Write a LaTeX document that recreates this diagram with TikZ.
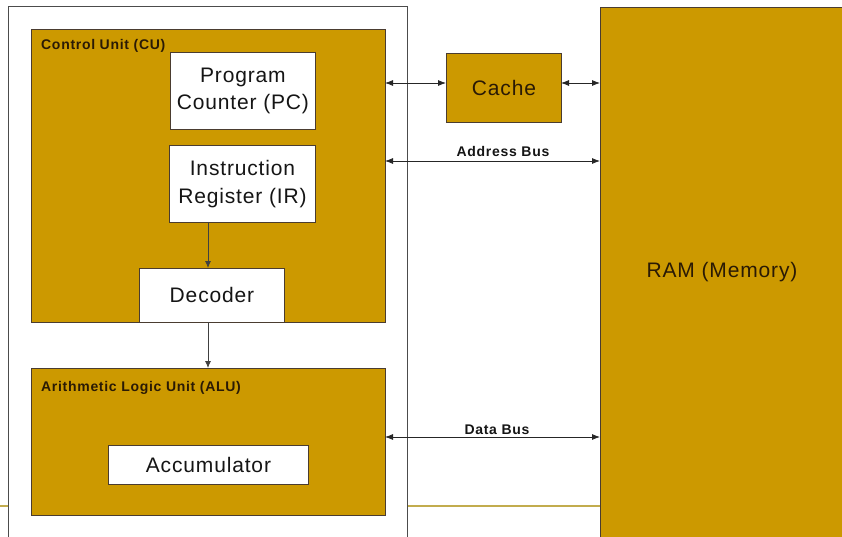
\documentclass[tikz,border=0pt]{standalone}
\usepackage{fontspec}
\setmainfont{Liberation Sans}
\usetikzlibrary{arrows.meta,calc}
\definecolor{gold}{HTML}{CC9900}
\definecolor{edge}{HTML}{4A3C30}
\definecolor{deco}{HTML}{C2AC4E}
\definecolor{ink}{HTML}{151515}
\definecolor{brownink}{HTML}{2A1A05}
\newcommand{\bigtext}{\fontsize{21}{27.5}\selectfont\addfontfeature{LetterSpace=4}}
\newcommand{\smalltext}{\bfseries\fontsize{14}{16}\selectfont\addfontfeature{LetterSpace=5}}
\tikzset{
  goldbox/.style={draw=edge, line width=0.9pt, fill=gold, anchor=north west, inner sep=0pt},
  whitebox/.style={draw=edge, line width=0.9pt, fill=white, anchor=north west, inner sep=0pt,
    font=\bigtext, text=ink, align=center},
  bigtextnode/.style={font=\bigtext, text=brownink},
  unitlabel/.style={font=\smalltext, text=brownink, anchor=base west, inner sep=0pt},
  buslabel/.style={font=\smalltext, text=ink, anchor=base, inner sep=0pt},
  bus/.style={draw=black!85, line width=0.8pt, {Latex[length=8pt,width=6pt]}-{Latex[length=8pt,width=6pt]}},
  flow/.style={draw=black!75, line width=0.8pt, -{Latex[length=7pt,width=6pt]}}
}
\begin{document}
\begin{tikzpicture}[x=1pt,y=-1pt]
\useasboundingbox (0,0) rectangle (842,537);
% decorative slide line
\draw[deco, line width=1.5pt] (0,506) -- (600,506);
% outer CPU box
\node[draw=black!70, line width=0.8pt, fill=white, anchor=north west, inner sep=0pt,
  minimum width=399pt, minimum height=540pt] (cpu) at (8,6) {};
% Control Unit
\node[goldbox, minimum width=354pt, minimum height=293pt] (cu) at (31,29) {};
\node[unitlabel] (culabel) at (41,50) {Control Unit (CU)};
\node[whitebox, minimum width=145pt, minimum height=77pt] (pc) at (170,52) {Program\\Counter (PC)};
\node[whitebox, minimum width=146pt, minimum height=77pt] (ir) at (169,145) {Instruction\\Register (IR)};
\node[whitebox, minimum width=145pt, minimum height=54pt] (dec) at (139,268) {Decoder};
% ALU
\node[goldbox, minimum width=354pt, minimum height=147pt] (alu) at (31,368) {};
\node[unitlabel] (alulabel) at (41,391) {Arithmetic Logic Unit (ALU)};
\node[whitebox, minimum width=200pt, minimum height=39pt] (acc) at (108,445) {Accumulator};
% Cache
\node[goldbox, minimum width=115pt, minimum height=69pt] (cache) at (446,53) {};
\node[bigtextnode] (cachetext) at (cache.center) {Cache};
% RAM
\node[goldbox, minimum width=245pt, minimum height=532pt] (ram) at (600,7) {};
\node[bigtextnode] (ramtext) at (722,272) {RAM (Memory)};
% internal flow
\coordinate (irout) at (208,222);
\coordinate (decin) at (208,268);
\draw[flow] (irout) -- (decin);
\coordinate (decout) at (208,322);
\coordinate (aluin) at (208,368);
\draw[flow] (decout) -- (aluin);
% buses
\coordinate (cuc) at (385,83);
\draw[bus] (cuc) -- (cuc -| cache.west);
\coordinate (cr) at (561,83);
\draw[bus] (cr) -- (cr -| ram.west);
\coordinate (ab) at (385,161);
\draw[bus] (ab) -- (ab -| ram.west);
\node[buslabel] (ablabel) at (503,157) {Address Bus};
\coordinate (db) at (385,437);
\draw[bus] (db) -- (db -| ram.west);
\node[buslabel] (dblabel) at (497,434) {Data Bus};
\end{tikzpicture}
\end{document}
